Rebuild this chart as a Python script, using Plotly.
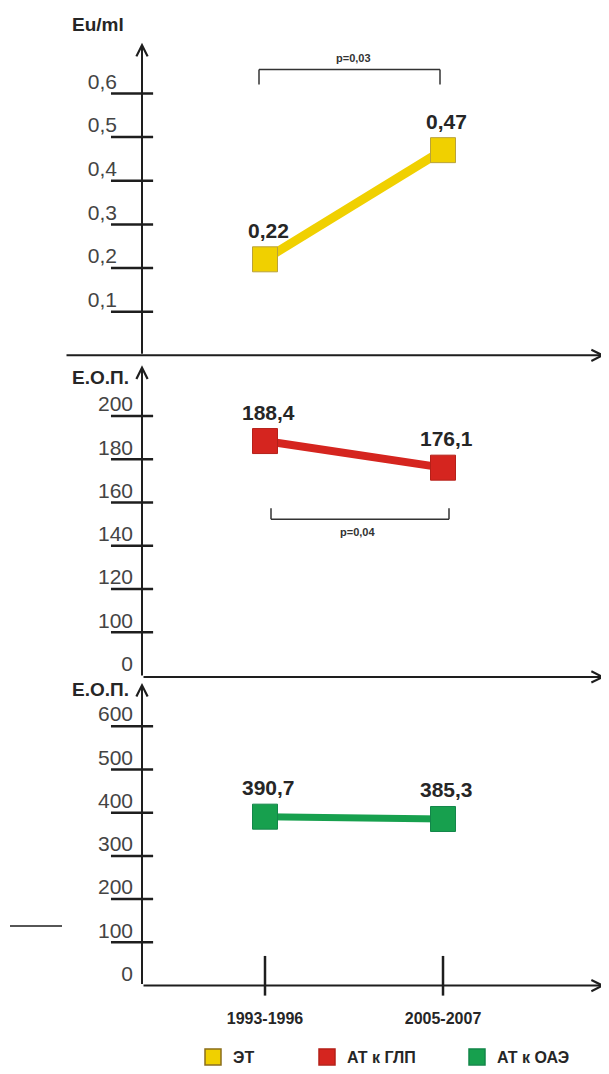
import plotly.graph_objects as go

# ---------------- data ----------------
categories = ["1993-1996", "2005-2007"]
series_names = ["ЭТ", "АТ к ГЛП", "АТ к ОАЭ"]
et_values = [0.22, 0.47]
glp_values = [188.4, 176.1]
oae_values = [390.7, 385.3]
axis_titles = ["Eu/ml", "Е.О.П.", "Е.О.П."]
p_labels = ["p=0,03", "p=0,04"]

et_tickvals = [0.1, 0.2, 0.3, 0.4, 0.5, 0.6]
et_ticktext = ["0,1", "0,2", "0,3", "0,4", "0,5", "0,6"]
glp_tickvals = [80, 100, 120, 140, 160, 180, 200]   # axis break: lowest tick labelled "0"
glp_ticktext = ["0", "100", "120", "140", "160", "180", "200"]
oae_tickvals = [0, 100, 200, 300, 400, 500, 600]
oae_ticktext = ["0", "100", "200", "300", "400", "500", "600"]

# ---------------- style ----------------
OFF = 8                      # page body margin of the browser
W, H = 609 - OFF, 1074 - OFF
FONT = "Liberation Sans, Arial, sans-serif"
AX = "#1e1e1e"
line_colors = ["#F0D000", "#D5251F", "#17A04E"]
marker_lines = ["#B9A23A", "#B52019", "#13864A"]
line_widths = [9, 8, 7]


def px(x):
    return (x - OFF) / W


def py(y):
    return 1 - (y - OFF) / H


# pixel geometry (page pixels) of the three panels: (top, bottom) of plot area
panel_px = [(43, 358), (368, 682), (688, 993)]
x_left, x_right = 142, 605

panels = [
    dict(xa="x", ya="y", vals=et_values, rng=[0, 0.716], tv=et_tickvals, tt=et_ticktext, standoff=24),
    dict(xa="x2", ya="y2", vals=glp_values, rng=[79.4, 223.4], tv=glp_tickvals, tt=glp_ticktext, standoff=8),
    dict(xa="x3", ya="y3", vals=oae_values, rng=[0, 700], tv=oae_tickvals, tt=oae_ticktext, standoff=8),
]

fig = go.Figure()
annotations = []
shapes = []


def fmt(v):
    return f"{v:g}".replace(".", ",")


for i, p in enumerate(panels):
    fig.add_trace(go.Scatter(
        x=categories, y=p["vals"], xaxis=p["xa"], yaxis=p["ya"],
        mode="lines+markers", name=series_names[i], showlegend=False,
        line=dict(color=line_colors[i], width=line_widths[i]),
        marker=dict(symbol="square", size=25, color=line_colors[i],
                    line=dict(color=marker_lines[i], width=1)),
        hoverinfo="skip",
    ))
    # value labels
    for c, v in zip(categories, p["vals"]):
        annotations.append(dict(
            x=c, y=v, xref=p["xa"], yref=p["ya"], text=f"<b>{fmt(v)}</b>",
            showarrow=False, yshift=29, xshift=3,
            xanchor="center", yanchor="middle",
            font=dict(family=FONT, size=21, color="#262626"),
        ))
    # tick lines crossing the y axis
    for tv in p["tv"]:
        if tv == p["tv"][0] and i > 0:
            continue
        shapes.append(dict(
            type="line", xref=f"{p['xa']} domain", yref=p["ya"],
            x0=-0.067, x1=0.024, y0=tv, y1=tv,
            line=dict(color=AX, width=2.5),
        ))
    # y axis with arrow
    annotations.append(dict(
        x=0, y=1, ax=0, ay=0, xref=f"{p['xa']} domain", yref=f"{p['ya']} domain",
        axref=f"{p['xa']} domain", ayref=f"{p['ya']} domain", text="",
        showarrow=True, arrowhead=5, arrowsize=1.1, arrowwidth=2, arrowcolor=AX,
    ))
    # x axis with arrow
    tail = (65 - x_left) / (x_right - x_left) if i == 0 else 0
    annotations.append(dict(
        x=1, y=0, ax=tail, ay=0, xref=f"{p['xa']} domain", yref=f"{p['ya']} domain",
        axref=f"{p['xa']} domain", ayref=f"{p['ya']} domain", text="",
        showarrow=True, arrowhead=5, arrowsize=1.1, arrowwidth=2, arrowcolor=AX,
    ))

# vertical category ticks on the bottom axis
for c in categories:
    shapes.append(dict(type="line", xref="x3", yref="y3 domain", x0=c, x1=c,
                       y0=-0.033, y1=0.098, line=dict(color=AX, width=2.5)))

# axis titles
title_pos = [(98, 25), (100, 380), (100, 695)]
for t, (tx, ty) in zip(axis_titles, title_pos):
    annotations.append(dict(x=px(tx), y=py(ty), xref="paper", yref="paper",
                            xanchor="center", yanchor="middle",
                            text=f"<b>{t}</b>", showarrow=False,
                            font=dict(family=FONT, size=19, color="#262626")))

# significance brackets (page pixel geometry)
bracket_px = [
    (259, 440, 70, 85, 353, 58),    # x0, x1, y_bar, y_end, text_x, text_y
    (271, 449, 523, 512, 357, 536),
]
for lab, (bx0, bx1, by, be, tx, ty) in zip(p_labels, bracket_px):
    for (a0, b0, a1, b1) in [(bx0, by, bx1, by), (bx0, by, bx0, be), (bx1, by, bx1, be)]:
        shapes.append(dict(type="line", xref="paper", yref="paper",
                           x0=px(a0), y0=py(b0), x1=px(a1), y1=py(b1),
                           line=dict(color="#333333", width=1.5)))
    annotations.append(dict(x=px(tx), y=py(ty), xref="paper", yref="paper",
                            xanchor="center", yanchor="middle",
                            text=f"<b>{lab}</b>", showarrow=False,
                            font=dict(family=FONT, size=11, color="#333333")))

# stray short rule at left
shapes.append(dict(type="line", xref="paper", yref="paper", x0=px(10), x1=px(62),
                   y0=py(933), y1=py(933), line=dict(color=AX, width=1.5)))

# legend entries (marker only), one legend each
legend_ids = ["legend", "legend2", "legend3"]
legend_x = [193, 307, 457]
for i, name in enumerate(series_names):
    fig.add_trace(go.Scatter(
        x=[None], y=[None], xaxis="x3", yaxis="y3", mode="markers", name=name,
        legend=legend_ids[i],
        marker=dict(symbol="square", size=18, color=line_colors[i],
                    line=dict(color=marker_lines[i] if i else "#8a6d1c", width=1.5)),
    ))

layout = dict(
    width=W, height=H, margin=dict(l=0, r=0, t=0, b=0),
    paper_bgcolor="white", plot_bgcolor="white",
    annotations=annotations, shapes=shapes,
)
for i, p in enumerate(panels):
    top, bot = panel_px[i]
    xk = "xaxis" if i == 0 else f"xaxis{i+1}"
    yk = "yaxis" if i == 0 else f"yaxis{i+1}"
    layout[xk] = dict(
        domain=[px(x_left), px(x_right)], anchor=p["ya"], type="category",
        range=[-0.691, 1.910], showgrid=False, zeroline=False, showline=False,
        ticks="", showticklabels=(i == 2), automargin=False, fixedrange=True,
        tickfont=dict(family=FONT, size=16, color="#262626", weight="bold"),
        ticklabelstandoff=21,
    )
    layout[yk] = dict(
        domain=[py(bot), py(top)], anchor=p["xa"], range=p["rng"],
        tickmode="array", tickvals=p["tv"], ticktext=p["tt"],
        showgrid=False, zeroline=False, showline=False, ticks="",
        tickfont=dict(family=FONT, size=21, color="#444444"),
        ticklabelshift=-12, ticklabelstandoff=p["standoff"], automargin=False,
        fixedrange=True,
    )
for i, lid in enumerate(legend_ids):
    layout[lid] = dict(
        x=px(legend_x[i]), y=py(1065), xanchor="left", yanchor="middle",
        orientation="h", bgcolor="rgba(0,0,0,0)", borderwidth=0,
        font=dict(family=FONT, size=16, color="#262626", weight="bold"),
    )

fig.update_layout(**layout)
fig.write_html("out.html")
